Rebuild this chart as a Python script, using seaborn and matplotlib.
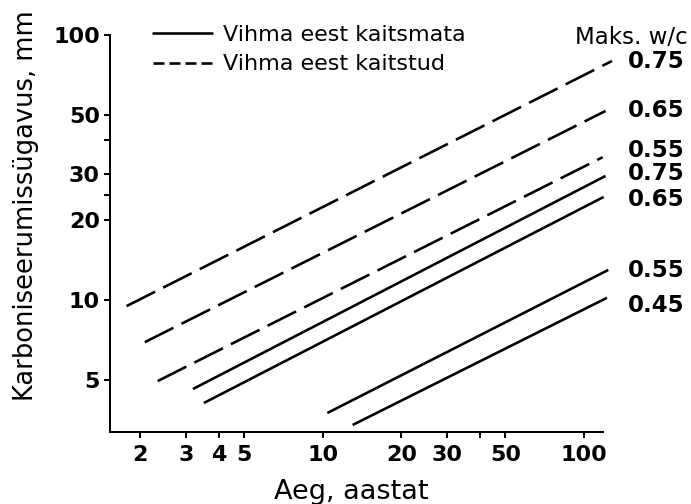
import numpy as np
import pandas as pd
import matplotlib
matplotlib.use("Agg")
import matplotlib.pyplot as plt
import seaborn as sns
from matplotlib.lines import Line2D
from matplotlib.ticker import FixedLocator, FixedFormatter, NullLocator

# Carbonation depth vs. age (log-log); each line given by its two end points
label_exposed = "Vihma eest kaitsmata"
label_protected = "Vihma eest kaitstud"

wc_protected = ["0.75", "0.65", "0.55"]
age_start_protected = [1.77, 2.08, 2.33]
age_end_protected = [128, 121, 118]
depth_start_protected = [9.49, 6.94, 4.95]
depth_end_protected = [79.8, 51.7, 34.6]

wc_exposed = ["0.75", "0.65", "0.55", "0.45"]
age_start_exposed = [3.18, 3.50, 10.4, 13.0]
age_end_exposed = [121, 119, 124, 122.5]
depth_start_exposed = [4.62, 4.09, 3.75, 3.38]
depth_end_exposed = [29.4, 24.5, 13.0, 10.2]

x_ticks = [2, 3, 4, 5, 10, 20, 30, 40, 50, 100]
x_tick_labels = ["2", "3", "4", "5", "10", "20", "30", "", "50", "100"]
y_ticks = [5, 10, 20, 25, 30, 40, 50, 100]
y_tick_labels = ["5", "10", "20", "", "30", "", "50", "100"]

rows = []
for cond, wcs, a0, a1, d0, d1 in [
    (label_protected, wc_protected, age_start_protected, age_end_protected,
     depth_start_protected, depth_end_protected),
    (label_exposed, wc_exposed, age_start_exposed, age_end_exposed,
     depth_start_exposed, depth_end_exposed),
]:
    for wc, t0, t1, y0, y1 in zip(wcs, a0, a1, d0, d1):
        uid = f"{cond} {wc}"
        rows.append(dict(cond=cond, line=uid, age=t0, depth=y0))
        rows.append(dict(cond=cond, line=uid, age=t1, depth=y1))
df = pd.DataFrame(rows)

sns.set_style("ticks")
plt.rcParams["font.family"] = ["DejaVu Sans"]
plt.rcParams["lines.scale_dashes"] = False
for key in ["text.color", "axes.labelcolor", "xtick.color", "ytick.color",
            "axes.edgecolor"]:
    plt.rcParams[key] = "black"

W, H = 691, 504
fig = plt.figure(figsize=(W / 100, H / 100), dpi=100)
L, R, B, T = 110, 603, 432, 35
ax = fig.add_axes([L / W, 1 - B / H, (R - L) / W, (B - T) / H])

px = 72 / 100  # points per pixel
sns.lineplot(
    data=df, x="age", y="depth", style="cond", units="line", estimator=None,
    dashes={label_exposed: "", label_protected: (32 * px, 9 * px)},
    color="black", linewidth=2.6 * px, legend=False, ax=ax,
)
for ln in ax.lines:
    ln.set_clip_on(False)
    ln.set_solid_capstyle("butt")
    ln.set_dash_capstyle("butt")

ax.set_xscale("log")
ax.set_yscale("log")
ax.set_xlim(1.53, 118.3)
ax.set_ylim(3.18, 100)

ax.xaxis.set_major_locator(FixedLocator(x_ticks))
ax.xaxis.set_major_formatter(FixedFormatter(x_tick_labels))
ax.xaxis.set_minor_locator(NullLocator())
ax.yaxis.set_major_locator(FixedLocator(y_ticks))
ax.yaxis.set_major_formatter(FixedFormatter(y_tick_labels))
ax.yaxis.set_minor_locator(NullLocator())

for side in ["top", "right"]:
    ax.spines[side].set_visible(False)
for side in ["left", "bottom"]:
    ax.spines[side].set_linewidth(2 * px)
    ax.spines[side].set_color("black")

ax.tick_params(axis="both", which="major", direction="out", length=6 * px,
               width=2 * px, color="black", labelcolor="black", labelsize=16,
               pad=3)
ax.tick_params(axis="x", pad=5)
for lab in ax.get_xticklabels() + ax.get_yticklabels():
    lab.set_fontweight("bold")

ax.set_xlabel("Aeg, aastat", fontsize=19.5)
ax.xaxis.set_label_coords((351 - L) / (R - L), (B - 479) / (B - T))
ax.set_ylabel("Karboniseerumissügavus, mm", fontsize=18.5)
ax.yaxis.set_label_coords((39 - L) / (R - L), (B - 206) / (B - T))

# w/c labels at the right-hand end of each line
wc_labels = wc_protected + wc_exposed
label_baselines = [68, 117, 157, 180, 206, 277, 312]
for txt, yb in zip(wc_labels, label_baselines):
    ax.text((628 - L) / (R - L), (B - yb) / (B - T), txt, transform=ax.transAxes,
            ha="left", va="baseline", fontsize=16.5, fontweight="bold",
            clip_on=False)
ax.text((688 - L) / (R - L), (B - 44) / (B - T), "Maks. w/c",
        transform=ax.transAxes, ha="right", va="baseline", fontsize=16.5,
        clip_on=False)

handles = [
    Line2D([], [], color="black", linewidth=2.6 * px, linestyle="-"),
    Line2D([], [], color="black", linewidth=2.6 * px,
           linestyle=(0, (11 * px, 5 * px))),
]
ax.legend(handles, [label_exposed, label_protected], loc="upper left",
          bbox_to_anchor=(153 / W, 1 - 25 / H), bbox_transform=fig.transFigure,
          frameon=False, fontsize=16, handlelength=59 / 22.2,
          handletextpad=11 / 22.2, labelspacing=0.42, borderpad=0,
          borderaxespad=0)

fig.savefig("out.png", dpi=100, facecolor="white")
